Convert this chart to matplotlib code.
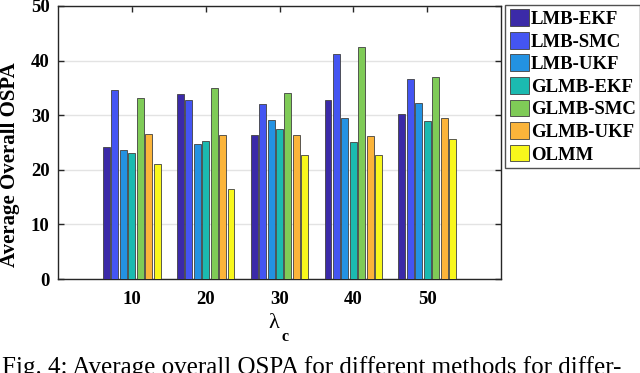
import numpy as np
import matplotlib
matplotlib.use("Agg")
import matplotlib.pyplot as plt

LAMBDAS = [10, 20, 30, 40, 50]
METHODS = ["LMB-EKF", "LMB-SMC", "LMB-UKF", "GLMB-EKF", "GLMB-SMC", "GLMB-UKF", "OLMM"]
COLORS = ["#3b2aa8", "#4455f2", "#2392e2", "#1bbab0", "#7fcb57", "#fbb43a", "#f8f71c"]

LMB_EKF = [24.2, 33.9, 26.4, 32.8, 30.3]
LMB_SMC = [34.6, 32.7, 32.0, 41.2, 36.6]
LMB_UKF = [23.6, 24.7, 29.2, 29.5, 32.2]
GLMB_EKF = [23.1, 25.3, 27.4, 25.1, 28.9]
GLMB_SMC = [33.2, 34.9, 34.0, 42.4, 37.0]
GLMB_UKF = [26.6, 26.4, 26.4, 26.2, 29.5]
OLMM = [21.0, 16.4, 22.8, 22.7, 25.6]

SERIES = [LMB_EKF, LMB_SMC, LMB_UKF, GLMB_EKF, GLMB_SMC, GLMB_UKF, OLMM]

W, H = 640, 373

plt.rcParams["font.family"] = ["Liberation Serif", "DejaVu Serif"]

fig = plt.figure(figsize=(6.4, 3.73), dpi=100)
ax = fig.add_axes([58 / W, 1 - 279 / H, (501 - 58) / W, (279 - 6) / H])

n = len(SERIES)
slot = 8.0 / n
width = slot * 0.82
x = np.array(LAMBDAS, dtype=float)
for i, (vals, name, col) in enumerate(zip(SERIES, METHODS, COLORS)):
    offset = (i - (n - 1) / 2) * slot
    ax.bar(x + offset, vals, width, color=col, edgecolor="#404040",
           linewidth=0.6, label=name, zorder=3)

ax.set_xlim(0, 60)
ax.set_ylim(0, 50)
ax.set_xticks(LAMBDAS)
ax.set_yticks(range(0, 51, 10))
ax.tick_params(axis="both", direction="in", top=True, right=True,
               length=4, width=1, labelsize=13.5, color="#262626")
ax.tick_params(axis="x", pad=9)
ax.tick_params(axis="y", pad=6)
for lab in ax.get_xticklabels() + ax.get_yticklabels():
    lab.set_fontweight("bold")
ax.yaxis.grid(True, color="#e3e3e3", linewidth=1, zorder=0)
for sp in ax.spines.values():
    sp.set_color("#262626")
    sp.set_linewidth(1.0)

# y label sits a bit low in the original
fig.text(10 / W, 1 - 165 / H, "Average Overall OSPA", rotation=90,
         fontsize=15, fontweight="bold", ha="center", va="center")

# x label: upright lambda with bold subscript c
fig.text(274 / W, 1 - 328 / H, "λ", fontsize=16, ha="center", va="baseline")
fig.text(282 / W, 1 - 341 / H, "c", fontsize=11.5, fontweight="bold",
         ha="left", va="baseline")

leg = ax.legend(loc="upper left", bbox_to_anchor=(1.01, 1.005),
                prop={"size": 13.5, "weight": "bold"},
                frameon=True, fancybox=False, edgecolor="#262626",
                handlelength=1.0, handleheight=1.0, handletextpad=0.1,
                borderpad=0.25, labelspacing=0.2, borderaxespad=0)
leg.get_frame().set_linewidth(1.0)

fig.text(0.003, -1 / H,
         "Fig. 4: Average overall OSPA for different methods for differ-",
         fontsize=18, ha="left", va="baseline")

fig.savefig("out.png", dpi=100)
